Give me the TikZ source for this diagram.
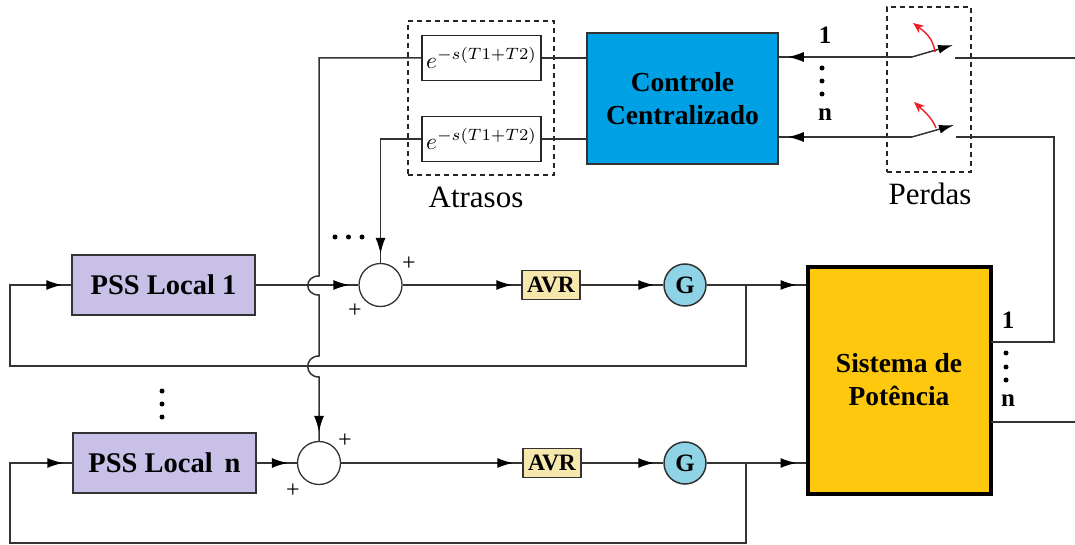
\documentclass[tikz,border=0pt]{standalone}
\usepackage{fontspec}
\setmainfont{Liberation Serif}
\usepackage{tikz}
\usepackage{graphicx}
\usepackage{amsmath}
\usetikzlibrary{arrows.meta,decorations.markings}
\definecolor{lineGray}{HTML}{333333}
\definecolor{ctrlBlue}{HTML}{00A0E4}
\definecolor{pssPurple}{HTML}{C8C0E6}
\definecolor{avrYellow}{HTML}{F6E7AC}
\definecolor{genBlue}{HTML}{8ED4E6}
\definecolor{sysYellow}{HTML}{FEC80E}
\definecolor{swRed}{HTML}{EE1C25}
\tikzset{
    wire/.style={draw=lineGray, line width=1.5pt},
    arr/.style={wire, postaction={decorate},
        decoration={markings, mark=at position -9pt with {\arrow{Latex[length=16pt,width=10pt,black]}}}},
    tbox/.style={draw=black!80, line width=1.5pt, inner sep=0pt, align=center, font=\fontsize{27.5}{33}\selectfont\bfseries},
    delay/.style={draw=black!85, line width=1.5pt, fill=white, minimum width=119pt, minimum height=45pt, inner sep=0pt},
    sum/.style={circle, draw=lineGray, line width=1.3pt, fill=white, minimum size=43pt, inner sep=0pt},
    gen/.style={circle, draw=lineGray, line width=1.5pt, fill=genBlue, minimum size=42pt, inner sep=0pt, font=\fontsize{25}{25}\selectfont\bfseries},
    avr/.style={tbox, fill=avrYellow, minimum width=58pt, minimum height=29pt, font=\fontsize{23.5}{24}\selectfont\bfseries},
    pss/.style={tbox, fill=pssPurple, minimum width=183pt, minimum height=60pt, font=\fontsize{28.5}{33}\selectfont\bfseries},
    lbl/.style={inner sep=0pt, font=\fontsize{31}{31}\selectfont},
    idx/.style={inner sep=0pt, font=\fontsize{25}{25}\selectfont\bfseries},
    plus/.style={inner sep=0pt, font=\fontsize{24}{24}\selectfont},
    dot/.style={circle, fill=black, minimum size=5pt, inner sep=0pt},
    group/.style={draw=black!85, line width=1.2pt, dash pattern=on 5pt off 4pt},
    swarm/.style={wire, -{Latex[length=15pt,width=9pt,black]}},
    swred/.style={draw=swRed, line width=1.4pt, -{Stealth[length=11pt,width=9pt]}}
}
\newcommand{\delayexp}{\scalebox{2.35}{$e^{-s(T1+T2)}$}}
\begin{document}
\begin{tikzpicture}[x=1pt,y=-1pt]
\useasboundingbox (0,0) rectangle (1075,545);

\node[delay] (delay1) at (481.5,58) {\delayexp};
\node[delay] (delay2) at (481.5,139) {\delayexp};
\node[tbox, fill=ctrlBlue, minimum width=191pt, minimum height=131pt] (ctrl) at (682.5,98.5) {Controle\\Centralizado};
\node[pss] (pss1) at (163.5,285) {PSS Local 1};
\node[pss] (pssn) at (164.5,463) {PSS Local\, n};
\node[sum] (sum1) at (380.5,285) {};
\node[sum] (sumn) at (319,463) {};
\node[avr] (avr1) at (551,285) {AVR};
\node[avr] (avrn) at (552,463) {AVR};
\node[gen] (g1) at (685,285) {G};
\node[gen] (gn) at (685,463) {G};
\node[tbox, line width=4pt, draw=black, fill=sysYellow, minimum width=183pt, minimum height=227pt] (sys) at (899,380.5) {\raisebox{2pt}{Sistema de}\\\raisebox{2pt}{Potência}};

\node[group, minimum width=146pt, minimum height=154pt] (atrasosbox) at (481,98) {};
\node[group, minimum width=84pt, minimum height=165pt] (perdasbox) at (929,89.5) {};
\node[lbl] (atrasos) at (476,197) {Atrasos};
\node[lbl] (perdas) at (930,194) {Perdas};

\coordinate (sw1a) at (912,57);
\coordinate (sw1b) at (953,45);
\coordinate (sw1c) at (955,58);
\coordinate (swna) at (912,137);
\coordinate (swnb) at (954,125);
\coordinate (swnc) at (956,137);
\coordinate (out1) at (991,342);
\coordinate (outn) at (991,422);
\coordinate (edge1) at (1075,58);
\coordinate (edgen) at (1075,422);
\coordinate (back1) at (1054,137);
\coordinate (fb1) at (746,285);
\coordinate (fbn) at (746,463);
\coordinate (ret1) at (10,366);
\coordinate (retn) at (10,543);

\draw[wire] (delay1.east) -- (delay1.east -| ctrl.west);
\draw[wire] (delay2.east) -- (delay2.east -| ctrl.west);
\draw[arr] (delay2.west) -| (sum1.north);
\draw[arr] (delay1.west) -- (319,58) -- (319,276)
    .. controls (304,276) and (304,295) .. (319,295) -- (319,356)
    .. controls (304,356) and (304,377) .. (319,377) -- (sumn.north);

\draw[arr] (pss1.east) -- (sum1.west);
\draw[arr] (pssn.east) -- (sumn.west);
\draw[arr] (sum1.east) -- (avr1.west);
\draw[arr] (sumn.east) -- (avrn.west);
\draw[arr] (avr1.east) -- (g1.west);
\draw[arr] (avrn.east) -- (gn.west);
\draw[arr] (g1.east) -- (sys.west |- g1);
\draw[arr] (gn.east) -- (sys.west |- gn);
\draw[arr] (fb1) |- (ret1) |- (pss1.west);
\draw[arr] (fbn) |- (retn) |- (pssn.west);

\draw[arr] (sw1a) -- (ctrl.east |- sw1a);
\draw[arr] (swna) -- (ctrl.east |- swna);
\draw[swarm] (sw1a) -- (sw1b);
\draw[swarm] (swna) -- (swnb);
\draw[wire] (sw1c) -- (edge1);
\draw[wire] (swnc) -- (back1) |- (out1);
\draw[wire] (outn) -- (edgen);
\draw[swred] (935,52) .. controls (933,38) and (925,32) .. (913,23);
\draw[swred] (936,128) .. controls (932,118) and (925,112) .. (914,102);

\node[idx] (ctrl1) at (825,35) {1};
\node[idx] (ctrln) at (825,115) {n};
\node[idx] (sys1) at (1008,320) {1};
\node[idx] (sysn) at (1008,401) {n};
\node[plus] (plus1a) at (409,264) {+};
\node[plus] (plus1b) at (355,311) {+};
\node[plus] (plusna) at (345,441) {+};
\node[plus] (plusnb) at (293,491) {+};

\foreach \i/\yy in {1/68,2/81,3/94} {
    \node[dot] (dctrl\i) at (822,\yy) {};
}
\foreach \i/\yy in {1/353,2/367,3/380} {
    \node[dot] (dsys\i) at (1006,\yy) {};
}
\foreach \i/\yy in {1/391,2/404,3/417} {
    \node[dot] (dpss\i) at (162,\yy) {};
}
\foreach \i/\xx in {1/335,2/348.5,3/362} {
    \node[dot] (dsum\i) at (\xx,237) {};
}
\end{tikzpicture}
\end{document}
